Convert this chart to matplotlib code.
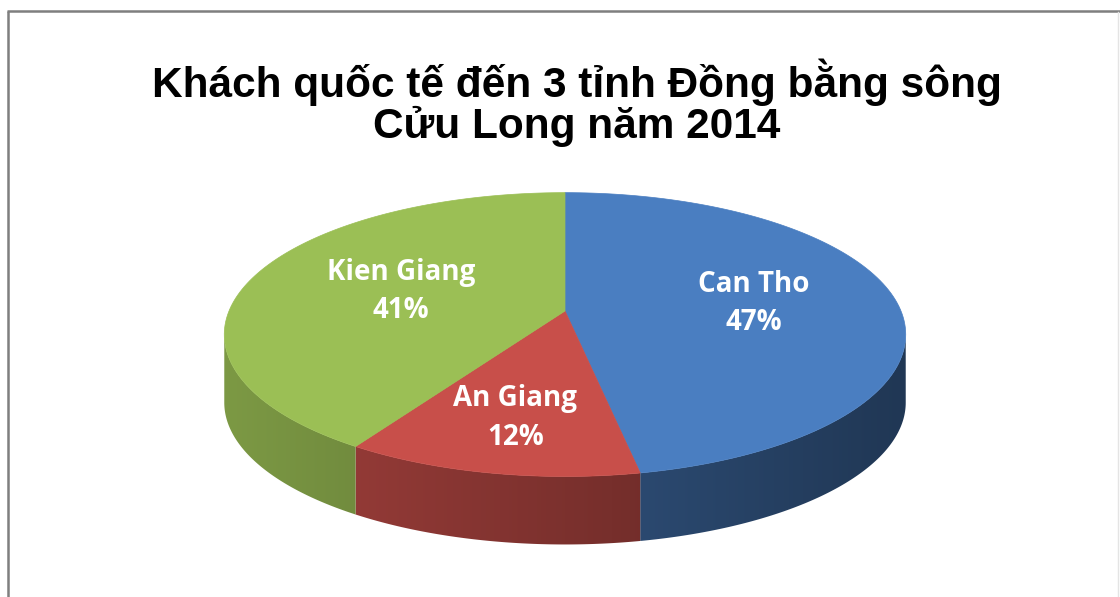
import matplotlib
matplotlib.use("Agg")
import matplotlib.pyplot as plt
from matplotlib.patches import Polygon
from matplotlib.colors import to_rgb
import numpy as np

title = "Khách quốc tế đến 3 tỉnh Đồng bằng sông\nCửu Long năm 2014"
provinces = ["Can Tho", "An Giang", "Kien Giang"]
shares = [47, 12, 41]
top_colors = ["#4a7ec1", "#c84f4a", "#9bbf55"]
label_r = [0.57, 0.70, 0.52]

# 3D pie geometry (pixel units, y grows downwards)
cx, cy = 565, 311
rx, ry = 336, 138
k = 0.166      # perspective strength
depth = 68


def project(phi, r=1.0):
    u, v = r * np.cos(phi), r * np.sin(phi)
    w = 1.0 / (1.0 + k * v)
    return cx + rx * u * w, cy - ry * v * w


fig = plt.figure(figsize=(11.2, 5.97), dpi=100)
ax = fig.add_axes([0, 0, 1, 1])

# slice boundaries, first slice starts at 12 o'clock going clockwise
bounds = np.radians(90 - np.concatenate([[0], np.cumsum(shares)]) * 3.6)
vis_lo = np.radians(-180) + np.arcsin(k)
vis_hi = -np.arcsin(k)

# outer walls (front half only), shaded darker towards the right
xg = np.linspace(cx - rx * 1.05, cx + rx * 1.05, 400)
shade = 0.62 - 0.18 * np.clip((xg - cx) / rx, -1, 1)
for i, col in enumerate(top_colors):
    a0, a1 = bounds[i], bounds[i + 1]
    lo, hi = max(a1, vis_lo), min(a0, vis_hi)
    if lo >= hi:
        continue
    phis = np.linspace(lo, hi, 120)
    xs, ys = project(phis)
    wall = Polygon(list(zip(xs, ys)) + list(zip(xs[::-1], ys[::-1] + depth)),
                   closed=True, facecolor="none", edgecolor="none")
    ax.add_patch(wall)
    grad = np.clip(np.array(to_rgb(col))[None, None, :] * shade[None, :, None], 0, 1)
    img = ax.imshow(grad, extent=(xg[0], xg[-1], ys.max() + depth + 2, ys.min() - 2),
                    aspect="auto", interpolation="bilinear", zorder=1)
    img.set_clip_path(wall)

# top faces
for i, col in enumerate(top_colors):
    phis = np.linspace(bounds[i], bounds[i + 1], 120)
    xs, ys = project(phis)
    pts = [(cx, cy)] + list(zip(xs, ys))
    ax.add_patch(Polygon(pts, closed=True, facecolor=col, edgecolor=col,
                         lw=0.5, zorder=2))

# data labels
for i, name in enumerate(provinces):
    mid = (bounds[i] + bounds[i + 1]) / 2
    lx, ly = project(mid, label_r[i])
    ax.text(lx, ly, f"{name}\n{shares[i]}%", ha="center", va="center",
            color="white", fontsize=20, fontweight="bold", family="Open Sans",
            linespacing=1.42, zorder=3)

ax.text(577, 103, title, ha="center", va="center", fontsize=30.5,
        fontweight="bold", family="Liberation Sans", linespacing=1.0)

# chart frame
ax.plot([8, 8], [597, 11], color="#7f7f7f", lw=1.8, solid_capstyle="butt")
ax.plot([7, 1120], [11, 11], color="#7f7f7f", lw=1.8, solid_capstyle="butt")
ax.plot([1118, 1118], [12, 597], color="#e4e4e4", lw=1.0)

ax.set_xlim(0, 1120)
ax.set_ylim(597, 0)
ax.axis("off")

fig.savefig("out.png", dpi=100)
